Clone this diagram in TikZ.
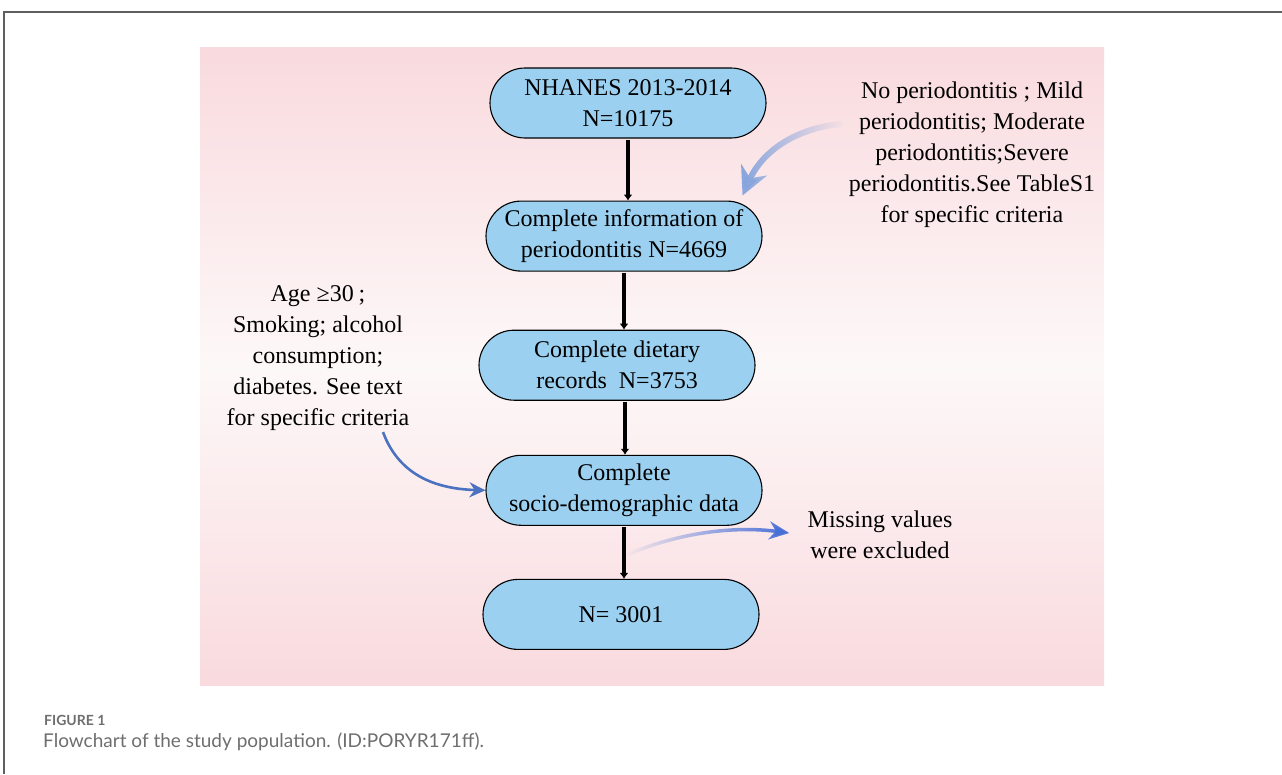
\documentclass[tikz,border=0pt]{standalone}
\usepackage{fontspec}
\setmainfont{Liberation Serif}
\newfontfamily\capfont{Lato}
\usetikzlibrary{arrows.meta,positioning,calc,fadings}
\definecolor{boxblue}{RGB}{155,208,240}
\definecolor{bgpink}{RGB}{249,218,222}
\definecolor{bglight}{RGB}{253,248,248}
\definecolor{notearrow}{RGB}{135,165,220}
\definecolor{critarrow}{RGB}{74,114,192}
\definecolor{missarrow}{RGB}{70,110,215}
\definecolor{framegray}{RGB}{95,95,95}
\definecolor{capgray}{RGB}{110,110,110}

\begin{document}
\begin{tikzpicture}[x=1pt, y=-1pt,
    stage/.style={rectangle, draw, line width=1.1pt, fill=boxblue, rounded corners=35pt, minimum width=276pt, minimum height=70pt, inner sep=0pt, align=center, font=\fontsize{24}{31}\selectfont},
    note/.style={align=center, font=\fontsize{24}{31}\selectfont},
    flow/.style={-{Latex[length=6pt,width=9pt]}, line width=3.6pt, shorten <=1pt, shorten >=0pt},
    node distance=60pt
]
    \useasboundingbox (0,0) rectangle (1282,774);
    % frame and background
    \draw[framegray, line width=1.5pt] (4,774) -- (4,12) -- (1282,12);
    \shade[top color=bgpink, bottom color=bgpink, middle color=bglight] (200,47) rectangle (1104,685);

    % main flow
    \node[stage] (nhanes) at (628,103) {NHANES 2013-2014\\N=10175};
    \node[stage, below=62pt of nhanes, xshift=-4pt] (perio) {Complete information of\\periodontitis N=4669};
    \node[stage, below=58pt of perio, xshift=-7pt] (diet) {Complete dietary\\records~~N=3753};
    \node[stage, below=54pt of diet, xshift=7pt] (socio) {Complete\\socio-demographic data};
    \node[stage, below=53pt of socio, xshift=-3pt] (final) {N= 3001};
    \draw[flow] (nhanes.south) -- (nhanes.south |- perio.north);
    \draw[flow] (perio.south) -- (perio.south |- diet.north);
    \draw[flow] ([xshift=8pt]diet.south) -- ([xshift=8pt]diet.south |- socio.north);
    \draw[flow] (socio.south) -- (socio.south |- final.north);

    % side notes
    \node[note] (scale) at (972,155) {No periodontitis ; Mild\\periodontitis; Moderate\\periodontitis;Severe\\periodontitis.See TableS1\\for specific criteria};
    \node[note] (crit) at (318,358) {Age ≥30\hspace{5pt};\\Smoking; alcohol\\consumption;\\diabetes. See text\\for specific criteria};
    \node[note] (missing) at (880,535) {Missing values\\were excluded};

    % note arrows
    \coordinate (scalefrom) at (842,124);
    \draw[notearrow, line width=6pt, -{Stealth[length=28pt,width=28pt]}, path fading=east]
        (scalefrom) .. controls (795,128) and (762,152) .. ([xshift=-20pt,yshift=5pt]perio.north east);
    \draw[critarrow, line width=2.6pt, -{Stealth[length=16pt,width=15pt]}]
        ([xshift=65pt,yshift=2pt]crit.south) .. controls (400,478) and (440,489) .. (socio.west);
    \coordinate (missfrom) at ($(socio.south)!0.55!(final.north)+(4,0)$);
    \draw[missarrow, line width=3.5pt, -{Stealth[length=20pt,width=18pt]}, path fading=west]
        (missfrom) .. controls (680,532) and (735,526) .. ([xshift=-15pt,yshift=2pt]missing.west);

    % caption
    \node[anchor=west, capgray, font=\capfont\bfseries\fontsize{14}{16}\selectfont, inner sep=0pt] (figlabel) at (44,720) {FIGURE 1};
    \node[anchor=west, capgray, font=\capfont\fontsize{19}{23}\selectfont, inner sep=0pt] (figcaption) at (43,742) {Flowchart of the study population. (ID:PORYR171ff).};
\end{tikzpicture}
\end{document}
